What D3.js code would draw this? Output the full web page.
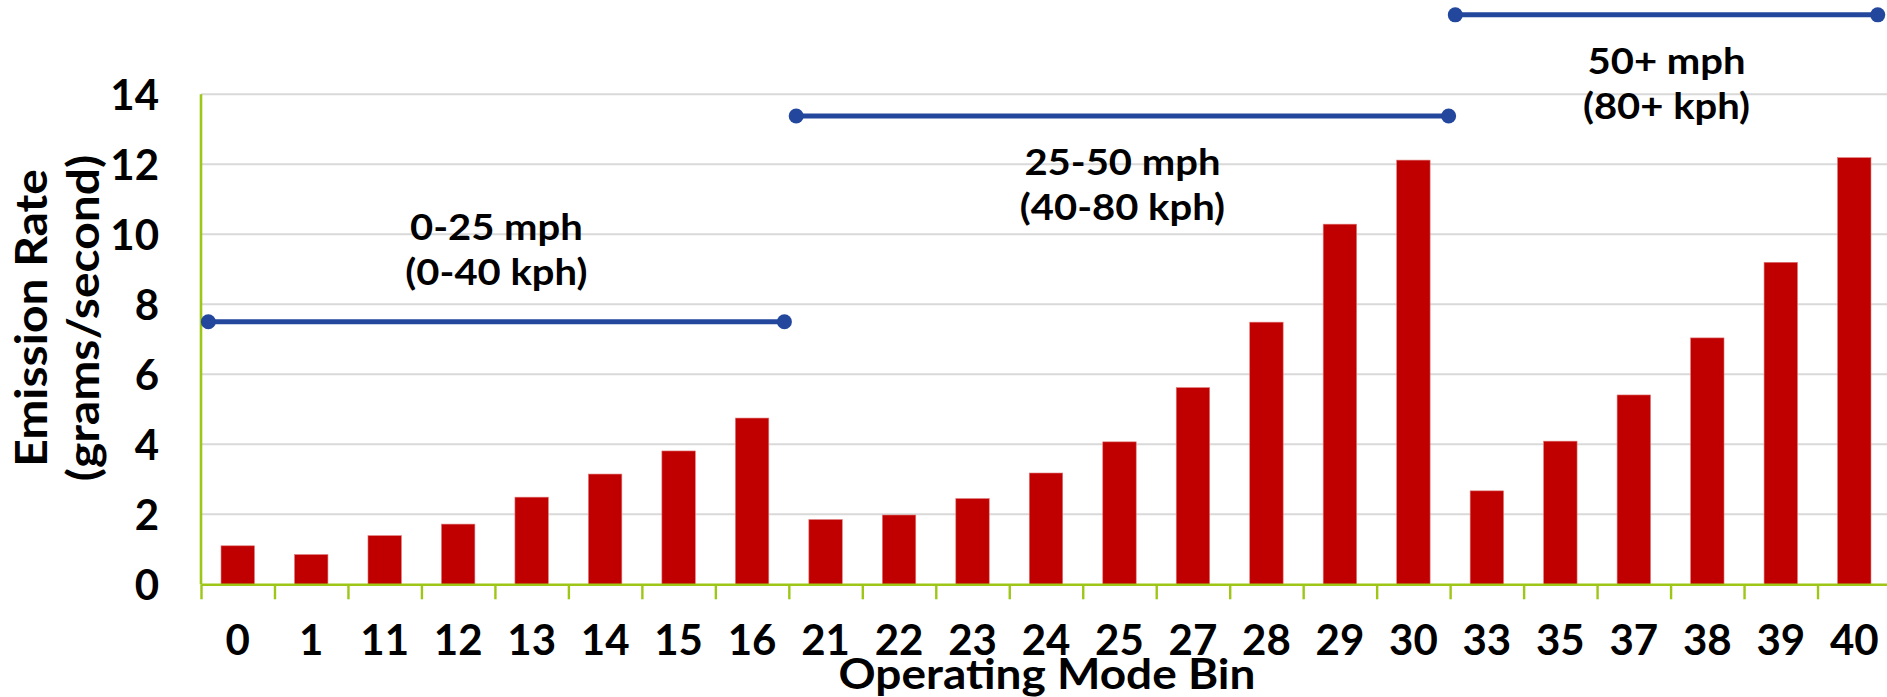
<!DOCTYPE html>
<html>
<head>
<meta charset="utf-8">
<script src="https://cdn.jsdelivr.net/npm/d3@7"></script>
<style>
  html, body { margin: 0; padding: 0; background: #ffffff; }
  svg { display: block; }
  text { font-family: Lato, "Open Sans", Arial, sans-serif; font-weight: 700; fill: #000; }
</style>
</head>
<body>
<svg id="chart" width="1887" height="697"></svg>
<script>
// Operating mode bins and their emission rates (grams/second)
const categories = ["0", "1", "11", "12", "13", "14", "15", "16", "21", "22", "23", "24",
                    "25", "27", "28", "29", "30", "33", "35", "37", "38", "39", "40"];
const emissionRates = [1.10, 0.85, 1.39, 1.72, 2.49, 3.15, 3.81, 4.75, 1.85, 1.98, 2.45, 3.18,
                       4.07, 5.62, 7.49, 10.29, 12.12, 2.67, 4.09, 5.41, 7.04, 9.20, 12.19];
const yTicks = [0, 2, 4, 6, 8, 10, 12, 14];

// Speed ranges marked above the bars: span in bin slots, and the level of the bracket line
const speedMph = ["0-25 mph", "25-50 mph", "50+ mph"];
const speedKph = ["(0-40 kph)", "(40-80 kph)", "(80+ kph)"];
const spanStart = [0.10, 8.10, 17.07];
const spanEnd = [7.94, 16.98, 22.82];
const spanLevel = [7.5, 13.38, 16.27];
const labelAbove = [true, false, false];

const svg = d3.select("#chart");
const plotLeft = 201, plotRight = 1891, plotTop = 94.3, plotBottom = 584.3;

const x = d3.scaleBand().domain(categories).range([plotLeft, plotRight])
  .paddingInner(0.545).paddingOuter(0.2725);
const slot = d3.scaleLinear().domain([0, categories.length]).range([plotLeft, plotRight]);
const y = d3.scaleLinear().domain([0, 14]).range([plotBottom, plotTop]);

const green = "#9DC617";
const blue = "#23479C";

// stretch text horizontally to a wider, geometric-looking face
function widen(sel, factor) {
  sel.each(function () {
    const w = this.getComputedTextLength();
    d3.select(this).attr("textLength", w * factor).attr("lengthAdjust", "spacingAndGlyphs");
  });
}

// horizontal gridlines
svg.append("g").selectAll("line").data(yTicks.filter(d => d > 0)).join("line")
  .attr("x1", plotLeft).attr("x2", 1887)
  .attr("y1", d => y(d)).attr("y2", d => y(d))
  .attr("stroke", "#D9D9D9").attr("stroke-width", 2);

// bars
svg.append("g").selectAll("rect").data(categories).join("rect")
  .attr("x", d => x(d))
  .attr("width", x.bandwidth())
  .attr("y", (d, i) => y(emissionRates[i]))
  .attr("height", (d, i) => y(0) - y(emissionRates[i]))
  .attr("fill", "#C00000")
  .attr("stroke", "#E07A7A").attr("stroke-width", 0.6);

// y axis: labels only, green line drawn separately
const yAxis = svg.append("g").attr("transform", `translate(${plotLeft},0)`)
  .call(d3.axisLeft(y).tickValues(yTicks).tickSize(0).tickPadding(42));
yAxis.select(".domain").remove();
yAxis.selectAll("text").attr("font-size", 42).attr("font-family", null).attr("dy", "0.36em");

svg.append("line").attr("x1", plotLeft).attr("x2", plotLeft).attr("y1", y(14)).attr("y2", y(0))
  .attr("stroke", green).attr("stroke-width", 2.6);

// x axis: boundary ticks between bins
const xTicks = svg.append("g").attr("transform", `translate(0,${plotBottom})`)
  .call(d3.axisBottom(slot).tickValues(d3.range(categories.length + 1)).tickFormat("")
    .tickSize(15).tickSizeOuter(0));
xTicks.select(".domain").attr("stroke", green).attr("stroke-width", 2.6);
xTicks.selectAll(".tick line").attr("stroke", green).attr("stroke-width", 2.4);

// x axis: bin labels
const xLabels = svg.append("g").attr("transform", `translate(0,${plotBottom})`)
  .call(d3.axisBottom(x).tickSize(0));
xLabels.select(".domain").remove();
xLabels.selectAll("text").attr("font-size", 42).attr("font-family", null)
  .attr("y", 71).attr("dy", 0);

// axis titles
svg.append("text").attr("x", 1047).attr("y", 689).attr("text-anchor", "middle")
  .attr("font-size", 42).text("Operating Mode Bin")
  .call(widen, 1.095);

const yTitle = svg.append("text").attr("transform", "translate(0,318) rotate(-90)")
  .attr("text-anchor", "middle").attr("font-size", 44);
yTitle.append("tspan").attr("x", 0).attr("y", 46.7).text("Emission Rate");
yTitle.append("tspan").attr("x", 0).attr("y", 99).text("(grams/second)");
yTitle.selectAll("tspan").call(widen, 1.09);

// speed range brackets
const spans = svg.append("g").selectAll("g").data(speedMph).join("g");
spans.append("line")
  .attr("x1", (d, i) => slot(spanStart[i])).attr("x2", (d, i) => slot(spanEnd[i]))
  .attr("y1", (d, i) => y(spanLevel[i])).attr("y2", (d, i) => y(spanLevel[i]))
  .attr("stroke", blue).attr("stroke-width", 5);
spans.selectAll("circle").data((d, i) => [[spanStart[i], spanLevel[i]], [spanEnd[i], spanLevel[i]]])
  .join("circle")
  .attr("cx", p => slot(p[0])).attr("cy", p => y(p[1])).attr("r", 7.5).attr("fill", blue);

spans.each(function (d, i) {
  const cx = slot((spanStart[i] + spanEnd[i]) / 2);
  const ly = y(spanLevel[i]);
  const b1 = labelAbove[i] ? ly - 81.7 : ly + 59;
  const t = d3.select(this).append("text").attr("text-anchor", "middle").attr("font-size", 37);
  t.append("tspan").attr("x", cx).attr("y", b1).text(speedMph[i]);
  t.append("tspan").attr("x", cx).attr("y", b1 + 45).text(speedKph[i]);
  t.selectAll("tspan").call(widen, 1.08);
});
</script>
</body>
</html>
